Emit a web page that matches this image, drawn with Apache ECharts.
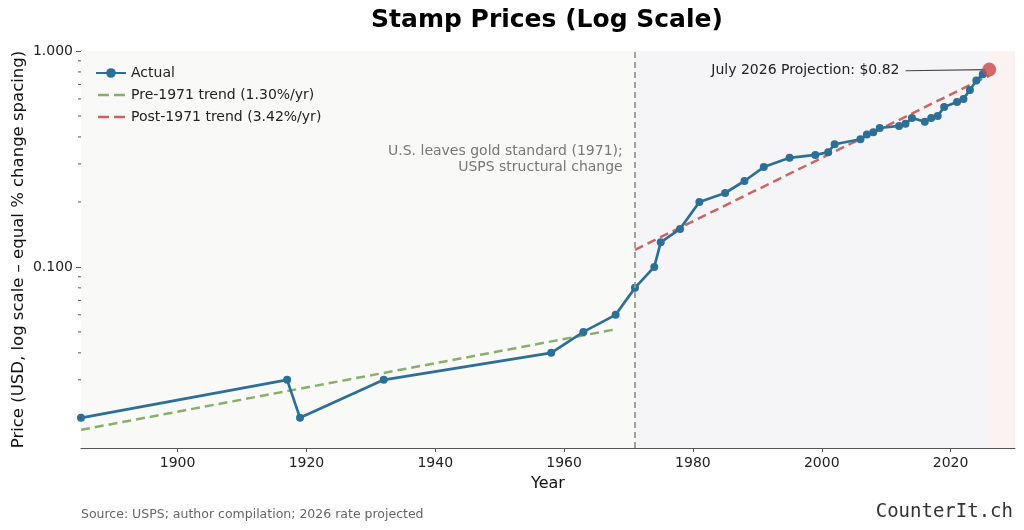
<!DOCTYPE html>
<html>
<head>
<meta charset="utf-8">
<script src="https://cdn.jsdelivr.net/npm/echarts@6/dist/echarts.min.js"></script>
<style>
  html, body { margin: 0; padding: 0; background: #fff; }
  #main { width: 1024px; height: 530px; }
</style>
</head>
<body>
<div id="main"></div>
<script>
// stamp price history (USD, first-class letter)
var years = [1885, 1917, 1919, 1932, 1958, 1963, 1968, 1971, 1974, 1975, 1978, 1981, 1985, 1988,
  1991, 1995, 1999, 2001, 2002, 2006, 2007, 2008, 2009, 2012, 2013, 2014, 2016, 2017, 2018,
  2019, 2021, 2022, 2023, 2024, 2025];
var prices = [0.02, 0.03, 0.02, 0.03, 0.04, 0.05, 0.06, 0.08, 0.10, 0.13, 0.15, 0.20, 0.22, 0.25,
  0.29, 0.32, 0.33, 0.34, 0.37, 0.39, 0.41, 0.42, 0.44, 0.45, 0.46, 0.49, 0.47, 0.49, 0.50,
  0.55, 0.58, 0.60, 0.66, 0.73, 0.78];

// fitted trend end points
var preTrend = [[1885, 0.0176], [1968, 0.0514]];
var postTrend = [[1971, 0.120], [2026, 0.770]];

var projection = [2026, 0.82];
var breakYear = 1971;

var xTicks = [1900, 1920, 1940, 1960, 1980, 2000, 2020];
var yTicks = [0.1, 1];
var yMinorTicks = [0.02, 0.03, 0.04, 0.05, 0.06, 0.07, 0.08, 0.09,
  0.2, 0.3, 0.4, 0.5, 0.6, 0.7, 0.8, 0.9];

var font = "DejaVu Sans";
var blue = "#2e6f96";
var green = "#88b06a";
var red = "#cc6464";

// two dashes, padded to the legend item box so it isn't stretched
var dashIcon = "path://M0,0L0.01,0M0,12L0.01,12M1,4.8h11v2.4h-11zM17,4.8h11v2.4h-11z";

var actual = years.map(function (y, i) { return [y, prices[i]]; });

var chart = echarts.init(document.getElementById("main"));

var option = {
  animation: false,
  textStyle: { fontFamily: font },
  title: [
    {
      text: "Stamp Prices (Log Scale)",
      left: 542,
      textAlign: "center",
      top: 3,
      textStyle: { fontSize: 25, fontWeight: "bold", color: "#000", fontFamily: font },
    },
    {
      text: "Source: USPS; author compilation; 2026 rate projected",
      left: 76,
      top: 503,
      textStyle: { fontSize: 12.5, fontWeight: "normal", color: "#666", fontFamily: font },
    },
    {
      text: "CounterIt.ch",
      right: 6,
      top: 498,
      textStyle: { fontSize: 19, fontWeight: "normal", color: "#333", fontFamily: "DejaVu Sans Mono" },
    },
  ],
  legend: {
    orient: "vertical",
    left: 90,
    top: 61,
    itemWidth: 30,
    itemHeight: 12,
    itemGap: 8,
    data: [
      { name: "Actual" },
      { name: "Pre-1971 trend (1.30%/yr)", icon: dashIcon },
      { name: "Post-1971 trend (3.42%/yr)", icon: dashIcon },
    ],
    textStyle: { fontSize: 14, color: "#222" },
  },
  grid: {
    left: 81,
    right: 9,
    top: 51,
    bottom: 82,
    outerBoundsMode: "none",
    show: true,
    backgroundColor: "#f9f9f8",
    borderWidth: 0,
  },
  xAxis: {
    type: "value",
    min: 1885,
    max: 2030,
    name: "Year",
    nameLocation: "middle",
    nameGap: 28,
    nameMoveOverlap: false,
    nameTextStyle: { fontSize: 16, color: "#111" },
    axisLine: { lineStyle: { color: "#555", width: 1 } },
    axisTick: { show: true, length: 4, customValues: xTicks, lineStyle: { color: "#555" } },
    axisLabel: {
      customValues: xTicks,
      fontSize: 14,
      color: "#222",
      margin: 8,
      formatter: function (v) { return String(v); },
    },
    splitLine: { show: true, lineStyle: { color: "#e2e2e2", type: [3, 3], width: 0.8 } },
  },
  yAxis: {
    type: "log",
    min: 0.0145,
    max: 1,
    name: "Price (USD, log scale \u2013 equal % change spacing)",
    nameLocation: "middle",
    nameGap: 54,
    nameMoveOverlap: false,
    nameTextStyle: { fontSize: 16.5, color: "#111" },
    axisLine: { show: true, lineStyle: { color: "#555", width: 1 } },
    axisTick: { show: true, length: 5, customValues: yTicks, lineStyle: { color: "#555" } },
    axisLabel: {
      customValues: yTicks,
      fontSize: 14,
      color: "#222",
      margin: 8,
      formatter: function (v) { return Number(v).toFixed(3); },
    },
    splitLine: { show: true, lineStyle: { color: "#e2e2e2", type: [3, 3], width: 0.8 } },
  },
  series: [
    {
      name: "regions",
      type: "line",
      data: [],
      silent: true,
      markArea: {
        silent: true,
        data: [
          [{ xAxis: 1885, itemStyle: { color: "#f9f9f7" } }, { xAxis: breakYear }],
          [{ xAxis: breakYear, itemStyle: { color: "#f5f5f8" } }, { xAxis: 2026 }],
          [{ xAxis: 2026, itemStyle: { color: "#fcf2f2" } }, { xAxis: 2030 }],
        ],
      },
      markLine: {
        silent: true,
        symbol: "none",
        label: { show: false },
        lineStyle: { color: "#999", type: [6, 4], width: 1.8 },
        data: [{ xAxis: breakYear }],
      },
      markPoint: {
        silent: true,
        symbolSize: 0,
        data: [
          {
            coord: [1969.1, 0.315],
            label: {
              show: true,
              formatter: "U.S. leaves gold standard (1971);\nUSPS structural change",
              align: "right",
              verticalAlign: "middle",
              fontSize: 14,
              lineHeight: 16,
              color: "#777",
            },
          },
        ],
      },
    },
    {
      name: "Pre-1971 trend (1.30%/yr)",
      type: "line",
      data: preTrend,
      symbol: "none",
      lineStyle: { color: green, width: 2.5, type: [9, 5] },
      itemStyle: { color: green },
      z: 3,
    },
    {
      name: "Post-1971 trend (3.42%/yr)",
      type: "line",
      data: postTrend,
      symbol: "none",
      lineStyle: { color: red, width: 2.5, type: [9, 5] },
      itemStyle: { color: red },
      z: 3,
    },
    {
      name: "Actual",
      type: "line",
      data: actual,
      symbol: "circle",
      symbolSize: 8,
      lineStyle: { color: blue, width: 2.7 },
      itemStyle: { color: blue },
      z: 4,
    },
    {
      name: "projection",
      type: "scatter",
      data: [projection],
      symbolSize: 14,
      itemStyle: { color: "#c44a4a" },
      z: 6,
      markLine: {
        silent: true,
        symbol: ["none", "arrow"],
        symbolSize: [0, 8],
        lineStyle: { color: "#444", width: 1.2, type: "solid" },
        label: {
          show: true,
          position: "start",
          distance: 6,
          formatter: "July 2026 Projection: $0.82",
          fontSize: 14,
          color: "#222",
        },
        data: [[{ coord: [2013, 0.81] }, { coord: [2025.4, 0.82] }]],
      },
    },
    {
      name: "minorTicks",
      type: "custom",
      silent: true,
      clip: false,
      data: yMinorTicks.map(function (v) { return [1885, v]; }),
      renderItem: function (params, api) {
        var p = api.coord([api.value(0), api.value(1)]);
        return {
          type: "line",
          shape: { x1: p[0] - 3, y1: p[1], x2: p[0], y2: p[1] },
          style: { stroke: "#555", lineWidth: 1 },
        };
      },
      z: 5,
    },
  ],
};

chart.setOption(option);
</script>
</body>
</html>
